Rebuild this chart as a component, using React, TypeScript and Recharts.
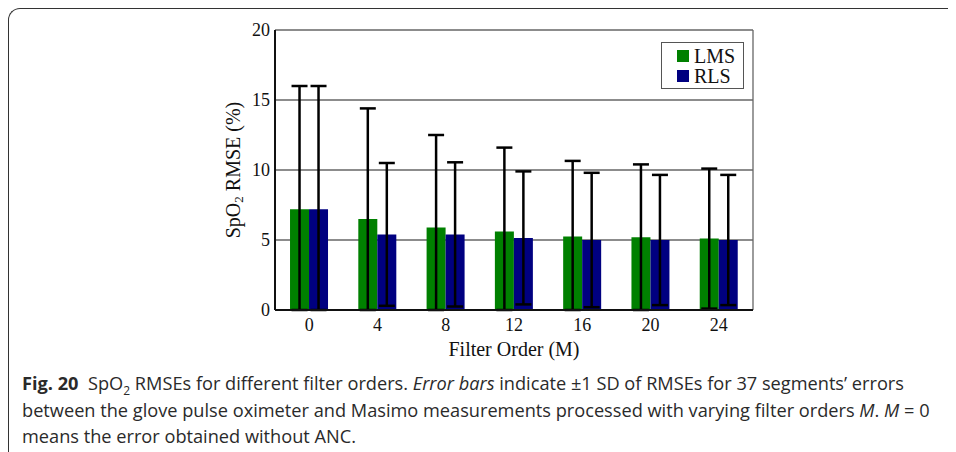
import { BarChart, Bar, XAxis, YAxis, CartesianGrid, ErrorBar, Legend } from 'recharts';

const filterOrders = ['0', '4', '8', '12', '16', '20', '24'];
const lmsRmse = [7.2, 6.5, 5.9, 5.6, 5.25, 5.2, 5.1];
const rlsRmse = [7.2, 5.4, 5.4, 5.15, 5.0, 5.0, 5.0];
const lmsSd = [8.8, 7.9, 6.6, 6.0, 5.4, 5.2, 5.0];
const rlsSd = [8.8, 5.1, 5.15, 4.75, 4.8, 4.65, 4.65];
const yTicks = [0, 5, 10, 15, 20];

const LMS_COLOR = '#008000';
const RLS_COLOR = '#000080';
const SERIF = '"Liberation Serif", "Times New Roman", serif';

// lower whisker stops at the x axis (plot is clipped at 0)
const data = filterOrders.map((order, i) => ({
  order,
  LMS: lmsRmse[i],
  RLS: rlsRmse[i],
  lmsErr: [Math.min(lmsSd[i], lmsRmse[i]), lmsSd[i]],
  rlsErr: [Math.min(rlsSd[i], rlsRmse[i]), rlsSd[i]],
}));

const renderYLabel = (props: any) => {
  const { x, width, y, height } = props.viewBox;
  const cx = x + width - 42;
  const cy = y + height / 2;
  return (
    <text
      x={cx}
      y={cy}
      transform={`rotate(-90, ${cx}, ${cy})`}
      textAnchor="middle"
      dominantBaseline="central"
      fontFamily={SERIF}
      fontSize={20}
      fill="#111"
    >
      SpO<tspan fontSize={13} dy={5}>2</tspan>
      <tspan dy={-5}> RMSE (%)</tspan>
    </text>
  );
};

const renderXLabel = (props: any) => {
  const { x, width, y } = props.viewBox;
  return (
    <text x={x + width / 2} y={y + 46} textAnchor="middle" fontFamily={SERIF} fontSize={20} fill="#111">
      Filter Order (M)
    </text>
  );
};

const renderLegend = () => (
  <div
    style={{
      border: '1.5px solid #555',
      background: '#fff',
      padding: '3px 8px 2px 15px',
      fontFamily: SERIF,
      fontSize: 20,
      lineHeight: '20px',
      color: '#111',
    }}
  >
    {[
      { name: 'LMS', color: LMS_COLOR },
      { name: 'RLS', color: RLS_COLOR },
    ].map((item) => (
      <div key={item.name} style={{ display: 'flex', alignItems: 'center' }}>
        <span style={{ width: 12, height: 12, background: item.color, marginRight: 5, display: 'inline-block' }} />
        {item.name}
      </div>
    ))}
  </div>
);

export default function App() {
  return (
    <div style={{ position: 'relative', width: 948, height: 444, overflow: 'hidden' }}>
      <div
        style={{
          position: 'absolute',
          left: 0,
          top: 0,
          width: 960,
          height: 460,
          borderTop: '1.5px solid #333',
          borderLeft: '1.5px solid #333',
          borderTopLeftRadius: 12,
          boxSizing: 'border-box',
        }}
      />
      <div style={{ position: 'absolute', left: 0, top: 0 }}>
        <BarChart
          width={948}
          height={360}
          data={data}
          margin={{ top: 22, right: 203, left: 0, bottom: 0 }}
          barCategoryGap="22%"
          barGap={0}
        >
          <CartesianGrid
            stroke="#666"
            strokeWidth={1.3}
            verticalCoordinatesGenerator={({ offset }: any) => [offset.left + offset.width]}
          />
          <XAxis
            dataKey="order"
            tickLine={false}
            tickSize={6}
            tickMargin={2}
            height={58}
            axisLine={{ stroke: '#111', strokeWidth: 2 }}
            tick={{ fontFamily: SERIF, fontSize: 18, fill: '#111' }}
            label={{ content: renderXLabel }}
          />
          <YAxis
            domain={[0, 20]}
            ticks={yTicks}
            width={267}
            tickLine={false}
            tickSize={3}
            tickMargin={2}
            axisLine={{ stroke: '#111', strokeWidth: 2 }}
            tick={{ fontFamily: SERIF, fontSize: 18, fill: '#111' }}
            label={{ content: renderYLabel }}
          />
          <Legend
            layout="vertical"
            align="center"
            verticalAlign="middle"
            content={renderLegend}
            wrapperStyle={{ left: 653, top: 34, width: 'auto' }}
          />
          <Bar dataKey="LMS" fill={LMS_COLOR} isAnimationActive={false}>
            <ErrorBar dataKey="lmsErr" width={8} stroke="#000" strokeWidth={2.5} />
          </Bar>
          <Bar dataKey="RLS" fill={RLS_COLOR} isAnimationActive={false}>
            <ErrorBar dataKey="rlsErr" width={8} stroke="#000" strokeWidth={2.5} />
          </Bar>
        </BarChart>
      </div>
      <div
        style={{
          position: 'absolute',
          left: 14,
          top: 362,
          fontFamily: '"Open Sans", "Noto Sans", sans-serif',
          fontSize: 18.2,
          lineHeight: '26.5px',
          color: '#2a2a2a',
          whiteSpace: 'nowrap',
        }}
      >
        <b>Fig. 20</b>&nbsp; SpO<sub style={{ fontSize: 12, lineHeight: 0 }}>2</sub> RMSEs for different filter orders.{' '}
        <i>Error bars</i> indicate ±1 SD of RMSEs for 37 segments’ errors
        <br />
        between the glove pulse oximeter and Masimo measurements processed with varying filter orders <i>M</i>.{' '}
        <i>M</i> = 0
        <br />
        means the error obtained without ANC.
      </div>
    </div>
  );
}
